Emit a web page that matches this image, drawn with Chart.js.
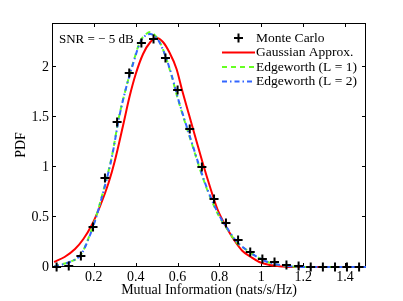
<!DOCTYPE html>
<html>
<head>
<meta charset="utf-8">
<script src="https://cdn.jsdelivr.net/npm/chart.js@4.4.1/dist/chart.umd.min.js"></script>
<style>
  html, body { margin: 0; padding: 0; background: #fff; }
</style>
</head>
<body>
<canvas id="pdfChart" width="403" height="301"></canvas>
<script>
// ticks
const xTicks = [0.2, 0.4, 0.6, 0.8, 1, 1.2, 1.4];
const yTicks = [0, 0.5, 1, 1.5, 2];

// Monte Carlo histogram
const mcX = [0.022, 0.080, 0.138, 0.196, 0.253, 0.311, 0.369, 0.427, 0.485, 0.542, 0.600, 0.658, 0.716,
  0.774, 0.831, 0.889, 0.947, 1.005, 1.063, 1.120, 1.178, 1.236, 1.294, 1.352, 1.409, 1.467];
const mcY = [0.00, 0.01, 0.11, 0.40, 0.89, 1.45, 1.94, 2.24, 2.28, 2.09, 1.77, 1.38, 1.00,
  0.68, 0.44, 0.27, 0.15, 0.08, 0.05, 0.02, 0.01, 0, 0, 0, 0, 0];

// Gaussian approx.
const gaussX = [0.01, 0.06, 0.11, 0.15, 0.19, 0.23, 0.27, 0.30, 0.34, 0.37, 0.40, 0.435, 0.47, 0.50,
  0.53, 0.56, 0.595, 0.62, 0.655, 0.69, 0.72, 0.755, 0.79, 0.83, 0.87, 0.91, 0.95, 0.99, 1.04, 1.10, 1.15, 1.50];
const gaussY = [0.05, 0.10, 0.18, 0.28, 0.42, 0.61, 0.84, 1.06, 1.42, 1.70, 1.93, 2.13, 2.25, 2.29,
  2.25, 2.15, 1.98, 1.78, 1.52, 1.26, 1.04, 0.80, 0.58, 0.41, 0.27, 0.16, 0.10, 0.05, 0.02, 0.005, 0, 0];

// Edgeworth L = 1
const edge1X = [0.01, 0.05, 0.085, 0.14, 0.18, 0.21, 0.245, 0.27, 0.29, 0.32, 0.355, 0.39, 0.42, 0.45, 0.47,
  0.49, 0.51, 0.54, 0.57, 0.60, 0.635, 0.67, 0.705, 0.74, 0.77, 0.80, 0.84, 0.88, 0.93, 0.98, 1.03, 1.09, 1.15, 1.20, 1.50];
const edge1Y = [0.005, 0.03, 0.05, 0.13, 0.32, 0.50, 0.76, 0.96, 1.15, 1.50, 1.80, 2.06, 2.25, 2.33, 2.35,
  2.32, 2.27, 2.12, 1.92, 1.69, 1.45, 1.22, 0.99, 0.78, 0.63, 0.50, 0.37, 0.25, 0.17, 0.10, 0.05, 0.02, 0.005, 0, 0];

// Edgeworth L = 2
const edge2X = [0.01, 0.05, 0.085, 0.14, 0.18, 0.21, 0.245, 0.27, 0.29, 0.32, 0.355, 0.39, 0.42, 0.45, 0.47,
  0.49, 0.51, 0.54, 0.57, 0.60, 0.635, 0.67, 0.705, 0.74, 0.77, 0.80, 0.84, 0.88, 0.93, 0.98, 1.03, 1.09, 1.15, 1.20, 1.50];
const edge2Y = [0.005, 0.025, 0.05, 0.13, 0.31, 0.49, 0.75, 0.95, 1.14, 1.49, 1.80, 2.05, 2.24, 2.32, 2.33,
  2.31, 2.26, 2.12, 1.93, 1.70, 1.46, 1.23, 1.00, 0.79, 0.64, 0.51, 0.38, 0.26, 0.17, 0.10, 0.05, 0.02, 0.005, 0, 0];

const FONT = "'Liberation Serif', 'Times New Roman', serif";

function toPoints(xs, ys) {
  return xs.map((x, i) => ({ x: x, y: ys[i] }));
}

// box + inward ticks like matlab
const frameAndTicks = {
  id: "frameAndTicks",
  beforeDatasetsDraw(chart) {
    const { ctx, chartArea: a, scales } = chart;
    ctx.save();
    ctx.strokeStyle = "#000";
    ctx.lineWidth = 1;
    ctx.strokeRect(a.left + 0.5, a.top + 0.5, a.right - a.left - 1, a.bottom - a.top - 1);
    ctx.beginPath();
    xTicks.forEach((v) => {
      const px = Math.round(scales.x.getPixelForValue(v)) + 0.5;
      ctx.moveTo(px, a.bottom);
      ctx.lineTo(px, a.bottom - 4);
      ctx.moveTo(px, a.top);
      ctx.lineTo(px, a.top + 4);
    });
    yTicks.forEach((v) => {
      const py = Math.round(scales.y.getPixelForValue(v)) - 0.5;
      ctx.moveTo(a.left, py);
      ctx.lineTo(a.left + 4, py);
      ctx.moveTo(a.right, py);
      ctx.lineTo(a.right - 4, py);
    });
    ctx.stroke();
    ctx.restore();
  },
  afterDraw(chart) {
    const ctx = chart.ctx;
    ctx.save();
    ctx.fillStyle = "#000";
    ctx.textBaseline = "middle";
    ctx.textAlign = "left";
    ctx.font = "13px " + FONT;
    ctx.fillText("SNR = \u2212 5 dB", 59, 40);

    // legend
    ctx.font = "13.5px " + FONT;
    const rows = [38, 52.5, 67, 81.5];
    chart.data.datasets.forEach((ds, i) => {
      const y = rows[i];
      if (ds.showLine === false) {
        ctx.strokeStyle = "#000";
        ctx.lineWidth = 2;
        ctx.setLineDash([]);
        ctx.beginPath();
        ctx.moveTo(238.5 - 4.5, y);
        ctx.lineTo(238.5 + 4.5, y);
        ctx.moveTo(238.5, y - 4.5);
        ctx.lineTo(238.5, y + 4.5);
        ctx.stroke();
      } else {
        ctx.strokeStyle = ds.borderColor;
        ctx.lineWidth = ds.borderWidth;
        ctx.setLineDash(ds.borderDash || []);
        ctx.beginPath();
        ctx.moveTo(222, y);
        ctx.lineTo(255, y);
        ctx.stroke();
      }
      ctx.setLineDash([]);
      ctx.fillText(ds.label, 256, y);
    });
    ctx.restore();
  }
};

Chart.defaults.color = "#000";

new Chart(document.getElementById("pdfChart"), {
  type: "line",
  data: {
    datasets: [
      {
        label: "Monte Carlo",
        data: toPoints(mcX, mcY),
        showLine: false,
        pointStyle: "cross",
        pointRadius: 4.5,
        pointBorderWidth: 2,
        pointBorderColor: "#000",
        borderColor: "#000",
        order: 0,
        clip: 6
      },
      {
        label: "Gaussian Approx.",
        data: toPoints(gaussX, gaussY),
        borderColor: "#ff0000",
        borderWidth: 2,
        pointRadius: 0,
        cubicInterpolationMode: "monotone",
        order: 3,
        clip: 3
      },
      {
        label: "Edgeworth (L = 1)",
        data: toPoints(edge1X, edge1Y),
        borderColor: "#66ff22",
        borderWidth: 2,
        borderDash: [5, 4],
        pointRadius: 0,
        cubicInterpolationMode: "monotone",
        order: 2,
        clip: 3
      },
      {
        label: "Edgeworth (L = 2)",
        data: toPoints(edge2X, edge2Y),
        borderColor: "#3366ff",
        borderWidth: 2,
        borderDash: [5, 3, 1.5, 3],
        pointRadius: 0,
        cubicInterpolationMode: "monotone",
        order: 1,
        clip: 3
      }
    ]
  },
  options: {
    responsive: false,
    animation: false,
    layout: { padding: { left: 0, top: 23, right: 37, bottom: 0 } },
    plugins: {
      legend: { display: false },
      tooltip: { enabled: false }
    },
    scales: {
      x: {
        type: "linear",
        min: 0,
        max: 1.5,
        afterFit: (scale) => { scale.height = 34; },
        afterBuildTicks: (scale) => { scale.ticks = xTicks.map((v) => ({ value: v })); },
        grid: { display: false, drawTicks: false, tickLength: 0 },
        border: { display: false },
        ticks: {
          padding: 2,
          maxRotation: 0,
          font: { family: FONT, size: 14 },
          callback: (v) => String(v)
        },
        title: {
          display: true,
          text: "Mutual Information (nats/s/Hz)",
          font: { family: FONT, size: 14 },
          padding: { top: 0, bottom: 2 }
        }
      },
      y: {
        type: "linear",
        min: 0,
        max: 2.44,
        afterFit: (scale) => { scale.width = 52; },
        afterBuildTicks: (scale) => { scale.ticks = yTicks.map((v) => ({ value: v })); },
        grid: { display: false, drawTicks: false, tickLength: 0 },
        border: { display: false },
        ticks: {
          padding: 3,
          font: { family: FONT, size: 14 },
          callback: (v) => String(v)
        },
        title: {
          display: true,
          text: "PDF",
          font: { family: FONT, size: 14 },
          padding: { top: 13, bottom: 0 }
        }
      }
    }
  },
  plugins: [frameAndTicks]
});
</script>
</body>
</html>
